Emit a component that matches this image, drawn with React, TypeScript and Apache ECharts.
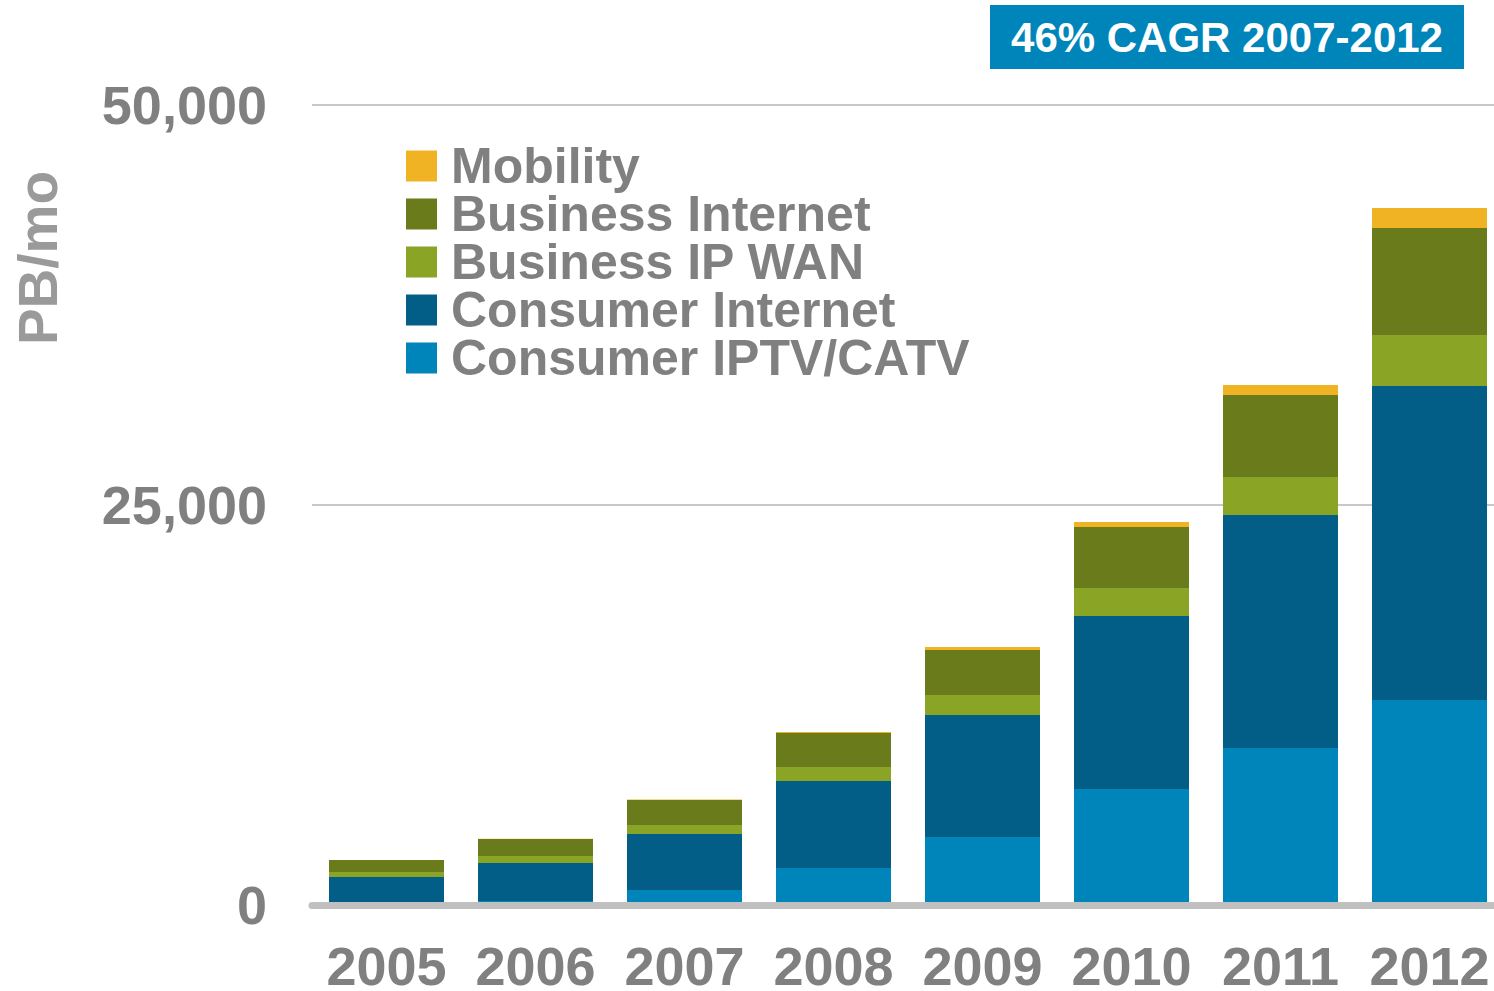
import React, { useEffect, useRef } from "react";
import * as echarts from "echarts";

const years = ["2005", "2006", "2007", "2008", "2009", "2010", "2011", "2012"];
const consumerIPTV = [60, 250, 940, 2310, 4250, 7250, 9810, 12810];
const consumerInternet = [1690, 2375, 3500, 5440, 7625, 10810, 14565, 19630];
const businessIPWAN = [310, 435, 560, 875, 1250, 1750, 2375, 3185];
const businessInternet = [750, 1065, 1560, 2125, 2815, 3815, 5125, 6685];
const mobility = [10, 20, 40, 60, 185, 315, 625, 1250];
const yTicks = [0, 25000, 50000];

const FONT = '"Liberation Sans", Arial, Helvetica, sans-serif';

export default function App() {
  const ref = useRef<HTMLDivElement>(null);
  useEffect(() => {
    if (!ref.current) return;
    const chart = echarts.init(ref.current, null, { renderer: "svg", width: 1504, height: 991 });
    const mk = (name: string, data: number[], color: string) => ({
      name,
      type: "bar",
      stack: "total",
      data,
      barWidth: 115,
      itemStyle: { color },
      emphasis: { disabled: true },
    });
    chart.setOption({
      animation: false,
      textStyle: { fontFamily: FONT },
      grid: { left: 312, right: 0, top: 105, bottom: 86, containLabel: false, outerBoundsMode: "none" },
      legend: {
        orient: "vertical",
        left: 406,
        top: 141,
        padding: 0,
        itemGap: -2,
        itemWidth: 31,
        itemHeight: 31,
        icon: "rect",
        selectedMode: false,
        data: ["Mobility", "Business Internet", "Business IP WAN", "Consumer Internet", "Consumer IPTV/CATV"],
        textStyle: {
          fontFamily: FONT,
          fontSize: 50,
          fontWeight: "bold",
          color: "#808080",
          padding: [0, 0, 0, 9],
        },
      },
      xAxis: {
        type: "category",
        data: years,
        z: 10,
        axisLine: { show: true, lineStyle: { color: "#c0c0c0", width: 7, cap: "round" } },
        axisTick: { show: false },
        axisLabel: {
          interval: 0,
          fontFamily: FONT,
          fontSize: 54,
          fontWeight: "bold",
          color: "#808080",
          margin: 34,
        },
      },
      yAxis: {
        type: "value",
        min: yTicks[0],
        max: yTicks[yTicks.length - 1],
        interval: yTicks[1] - yTicks[0],
        axisLine: { show: false },
        axisTick: { show: false },
        splitLine: { lineStyle: { color: "#c8c8c8", width: 2 } },
        axisLabel: {
          fontFamily: FONT,
          fontSize: 54,
          fontWeight: "bold",
          color: "#808080",
          margin: 45,
          formatter: (v: number) => v.toLocaleString("en-US"),
        },
      },
      graphic: [
        {
          type: "text",
          x: 38,
          y: 258,
          rotation: Math.PI / 2,
          style: {
            text: "PB/mo",
            fontFamily: FONT,
            fontSize: 55,
            fontWeight: "bold",
            fill: "#9a9a9a",
            textAlign: "center",
            textVerticalAlign: "middle",
          },
        },
        {
          type: "rect",
          shape: { x: 990, y: 5, width: 474, height: 64 },
          style: { fill: "#0085BA" },
        },
        {
          type: "text",
          x: 1227,
          y: 37,
          style: {
            text: "46% CAGR 2007-2012",
            fontFamily: FONT,
            fontSize: 42,
            fontWeight: "bold",
            fill: "#ffffff",
            textAlign: "center",
            textVerticalAlign: "middle",
          },
        },
      ],
      series: [
        mk("Consumer IPTV/CATV", consumerIPTV, "#0085BA"),
        mk("Consumer Internet", consumerInternet, "#025E87"),
        mk("Business IP WAN", businessIPWAN, "#8AA526"),
        mk("Business Internet", businessInternet, "#6A7B1B"),
        mk("Mobility", mobility, "#F0B323"),
      ],
    });
    return () => chart.dispose();
  }, []);
  return (
    <div
      style={{ position: "absolute", left: 0, top: 0, width: 1494, height: 991, overflow: "hidden", background: "#fff" }}
    >
      <div ref={ref} style={{ width: 1504, height: 991 }} />
    </div>
  );
}
